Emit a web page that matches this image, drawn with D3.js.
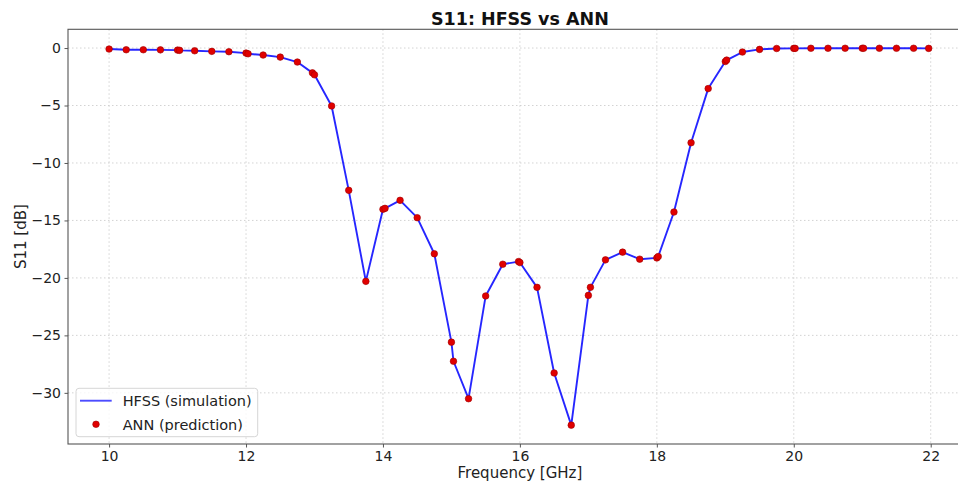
<!DOCTYPE html>
<html>
<head>
<meta charset="utf-8">
<script src="https://cdn.jsdelivr.net/npm/d3@7"></script>
<style>
  html, body { margin: 0; padding: 0; background: #fff; overflow: hidden; }
  svg { display: block; font-family: "DejaVu Sans", sans-serif; }
</style>
</head>
<body>
<svg id="chart" width="958" height="483"></svg>
<script>
// ---- Data ----
const hfssFreq = [10, 10.25, 10.5, 10.75, 11, 11.03, 11.25, 11.5, 11.75, 12, 12.03, 12.25, 12.5, 12.75,
  12.97, 13.0, 13.25, 13.5, 13.75, 14, 14.03, 14.25, 14.5, 14.75, 15, 15.03, 15.25, 15.5, 15.75,
  15.98, 16.0, 16.25, 16.5, 16.75, 17, 17.03, 17.25, 17.5, 17.75, 18, 18.02, 18.25, 18.5, 18.75,
  19, 19.02, 19.25, 19.5, 19.75, 20, 20.02, 20.25, 20.5, 20.75, 21, 21.02, 21.25, 21.5, 21.75, 21.97];
const hfssS11 = [-0.09, -0.15, -0.15, -0.16, -0.18, -0.2, -0.24, -0.29, -0.32, -0.44, -0.5, -0.61, -0.79, -1.22,
  -2.16, -2.33, -5.04, -12.38, -20.3, -14.03, -13.95, -13.25, -14.76, -17.9, -25.59, -27.25, -30.51, -21.57, -18.81,
  -18.58, -18.66, -20.82, -28.27, -32.81, -21.52, -20.82, -18.43, -17.76, -18.37, -18.26, -18.14, -14.27, -8.24, -3.53,
  -1.17, -1.05, -0.35, -0.12, -0.04, -0.03, -0.03, -0.02, -0.02, -0.02, -0.02, -0.02, -0.02, -0.02, -0.02, -0.03];
const annFreq = [10, 10.25, 10.5, 10.75, 11, 11.03, 11.25, 11.5, 11.75, 12, 12.03, 12.25, 12.5, 12.75,
  12.97, 13.0, 13.25, 13.5, 13.75, 14, 14.03, 14.25, 14.5, 14.75, 15, 15.03, 15.25, 15.5, 15.75,
  15.98, 16.0, 16.25, 16.5, 16.75, 17, 17.03, 17.25, 17.5, 17.75, 18, 18.02, 18.25, 18.5, 18.75,
  19, 19.02, 19.25, 19.5, 19.75, 20, 20.02, 20.25, 20.5, 20.75, 21, 21.02, 21.25, 21.5, 21.75, 21.97];
const annS11 = [-0.09, -0.15, -0.15, -0.16, -0.18, -0.2, -0.24, -0.29, -0.32, -0.44, -0.5, -0.61, -0.79, -1.22,
  -2.16, -2.33, -5.04, -12.38, -20.3, -14.03, -13.95, -13.25, -14.76, -17.9, -25.59, -27.25, -30.51, -21.57, -18.81,
  -18.58, -18.66, -20.82, -28.27, -32.81, -21.52, -20.82, -18.43, -17.76, -18.37, -18.26, -18.14, -14.27, -8.24, -3.53,
  -1.17, -1.05, -0.35, -0.12, -0.04, -0.03, -0.03, -0.02, -0.02, -0.02, -0.02, -0.02, -0.02, -0.02, -0.02, -0.03];
const xTicks = [10, 12, 14, 16, 18, 20, 22];
const yTicks = [0, -5, -10, -15, -20, -25, -30];
const titleText = "S11: HFSS vs ANN";
const xLabel = "Frequency [GHz]";
const yLabel = "S11 [dB]";
const seriesNames = ["HFSS (simulation)", "ANN (prediction)"];

// ---- Layout ----
const svg = d3.select("#chart");
const pLeft = 68, pRight = 971.8, pTop = 29.3, pBottom = 444;

const x = d3.scaleLinear().domain([9.4, 22.6]).range([pLeft, pRight]);
const y = d3.scaleLinear().domain([-34.45, 1.63]).range([pBottom, pTop]);

// grid
const grid = svg.append("g");
grid.selectAll("line.vg").data(xTicks).join("line")
  .attr("x1", d => x(d)).attr("x2", d => x(d))
  .attr("y1", pTop).attr("y2", pBottom)
  .attr("stroke", "#c8c8c8").attr("stroke-width", 0.8).attr("stroke-dasharray", "1.5,2.5");
grid.selectAll("line.hg").data(yTicks).join("line")
  .attr("x1", pLeft).attr("x2", pRight)
  .attr("y1", d => y(d)).attr("y2", d => y(d))
  .attr("stroke", "#c8c8c8").attr("stroke-width", 0.8).attr("stroke-dasharray", "1.5,2.5");

// axes
const xAxis = d3.axisBottom(x).tickValues(xTicks).tickSize(3.5).tickPadding(3.5).tickFormat(d3.format("d"));
const yAxis = d3.axisLeft(y).tickValues(yTicks).tickSize(3.5).tickPadding(3.5)
  .tickFormat(d => d < 0 ? "\u2212" + Math.abs(d) : String(d));

const gx = svg.append("g").attr("transform", `translate(0,${pBottom})`).call(xAxis);
const gy = svg.append("g").attr("transform", `translate(${pLeft},0)`).call(yAxis);
[gx, gy].forEach(g => {
  g.select(".domain").remove();
  g.selectAll(".tick line").attr("stroke", "#444").attr("stroke-width", 0.9);
  g.selectAll(".tick text").attr("fill", "#222").style("font-size", "14px")
    .style("font-family", "'DejaVu Sans', sans-serif");
});

// frame
svg.append("rect").attr("x", pLeft).attr("y", pTop)
  .attr("width", pRight - pLeft).attr("height", pBottom - pTop)
  .attr("fill", "none").attr("stroke", "#555").attr("stroke-width", 1.1);

// line
const line = d3.line().x((d, i) => x(hfssFreq[i])).y((d, i) => y(hfssS11[i]));
svg.append("path").datum(hfssS11).attr("d", line)
  .attr("fill", "none").attr("stroke", "#0000ff").attr("stroke-opacity", 0.85)
  .attr("stroke-width", 1.9).attr("stroke-linejoin", "round");

// points
svg.append("g").selectAll("circle").data(annS11).join("circle")
  .attr("cx", (d, i) => x(annFreq[i])).attr("cy", d => y(d)).attr("r", 3.3)
  .attr("fill", "#e00000").attr("stroke", "#a00000").attr("stroke-width", 0.6);

// title & labels
svg.append("text").attr("x", (pLeft + pRight) / 2).attr("y", 25)
  .attr("text-anchor", "middle").style("font-size", "17.5px").style("font-weight", "bold")
  .attr("fill", "#111").text(titleText);
svg.append("text").attr("x", (pLeft + pRight) / 2).attr("y", 477.5)
  .attr("text-anchor", "middle").style("font-size", "15px").attr("fill", "#222").text(xLabel);
svg.append("text").attr("transform", `translate(25.5,${(pTop + pBottom) / 2}) rotate(-90)`)
  .attr("text-anchor", "middle").style("font-size", "15px").attr("fill", "#222").text(yLabel);

// legend
const lg = svg.append("g");
lg.append("rect").attr("x", 76).attr("y", 388.3).attr("width", 181.7).attr("height", 48.4)
  .attr("rx", 3).attr("fill", "#fff").attr("fill-opacity", 0.8)
  .attr("stroke", "#d6d6d6").attr("stroke-width", 1);
lg.append("line").attr("x1", 80).attr("x2", 111.7).attr("y1", 400.7).attr("y2", 400.7)
  .attr("stroke", "#0000ff").attr("stroke-opacity", 0.7).attr("stroke-width", 1.9);
lg.append("circle").attr("cx", 96).attr("cy", 424.3).attr("r", 3.3)
  .attr("fill", "#e00000").attr("stroke", "#a00000").attr("stroke-width", 0.6);
lg.selectAll("text").data(seriesNames).join("text")
  .attr("x", 122.7).attr("y", (d, i) => 406 + i * 23.6)
  .style("font-size", "14.5px").attr("fill", "#222").text(d => d);
</script>
</body>
</html>
